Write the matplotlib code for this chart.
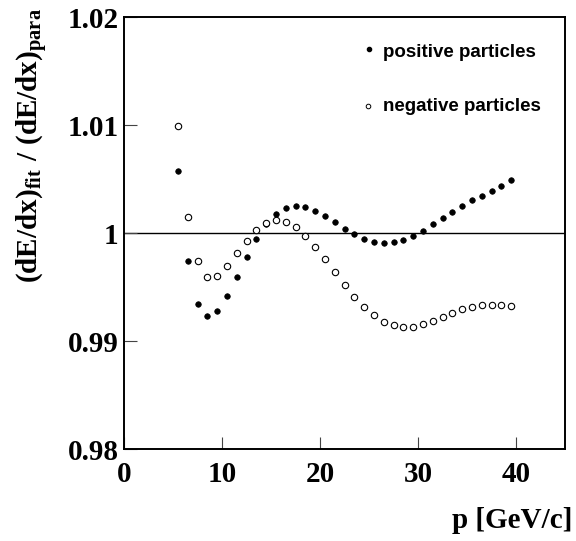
import matplotlib
matplotlib.use("Agg")
import matplotlib.pyplot as plt
import numpy as np

plt.rcParams['mathtext.fontset'] = 'custom'
plt.rcParams['mathtext.rm'] = 'Liberation Serif:bold'
plt.rcParams['mathtext.bf'] = 'Liberation Serif:bold'
plt.rcParams['mathtext.it'] = 'Liberation Serif:bold'

p_pos = [5.5, 6.5, 7.5, 8.5, 9.5, 10.5, 11.5, 12.5, 13.5, 14.5, 15.5, 16.5, 17.5,
         18.5, 19.5, 20.5, 21.5, 22.5, 23.5, 24.5, 25.5, 26.5, 27.5, 28.5, 29.5,
         30.5, 31.5, 32.5, 33.5, 34.5, 35.5, 36.5, 37.5, 38.5, 39.5]
ratio_pos = [1.00577, 0.99738, 0.99343, 0.99229, 0.99275, 0.99417, 0.99596, 0.99781,
             0.99942, 1.00080, 1.00173, 1.00229, 1.00253, 1.00241, 1.00206, 1.00157,
             1.00099, 1.00040, 0.99991, 0.99947, 0.99920, 0.99907, 0.99914, 0.99935,
             0.99972, 1.00020, 1.00080, 1.00136, 1.00198, 1.00253, 1.00302, 1.00346,
             1.00386, 1.00435, 1.00494]

p_neg = p_pos
ratio_neg = [1.00988, 1.00148, 0.99744, 0.99593, 0.99602, 0.99691, 0.99812, 0.99929,
             1.00028, 1.00096, 1.00117, 1.00105, 1.00056, 0.99975, 0.99873, 0.99762,
             0.99642, 0.99521, 0.99410, 0.99318, 0.99238, 0.99179, 0.99145, 0.99133,
             0.99133, 0.99156, 0.99185, 0.99225, 0.99259, 0.99293, 0.99318, 0.99333,
             0.99336, 0.99330, 0.99321]

x_ticks = [0, 10, 20, 30, 40]
y_ticks = [0.98, 0.99, 1.00, 1.01, 1.02]
y_tick_labels = ['0.98', '0.99', '1', '1.01', '1.02']
legend_labels = ['positive particles', 'negative particles']

W, H = 576, 541
fig = plt.figure(figsize=(W / 100, H / 100), dpi=100)
ax = fig.add_axes([124 / W, 1 - 449 / H, (565 - 124) / W, (449 - 17) / H])

ax.axhline(1.0, color='black', lw=1.0, zorder=1)
ax.plot(p_pos, ratio_pos, 'o', ms=4.0, mfc='black', mec='black', mew=0.5, zorder=3)
ax.plot(p_neg, ratio_neg, 'o', ms=4.6, mfc='white', mec='black', mew=0.8, zorder=3)

ax.set_xlim(0, 45)
ax.set_ylim(0.98, 1.02)
ax.set_xticks(x_ticks)
ax.set_xticklabels([str(t) for t in x_ticks])
ax.set_yticks(y_ticks)
ax.set_yticklabels(y_tick_labels)
ax.tick_params(axis='both', direction='in', length=9, width=0.8, color='#444444',
               labelsize=21)
ax.tick_params(axis='x', pad=9)
ax.tick_params(axis='y', pad=4)
for lab in ax.get_xticklabels() + ax.get_yticklabels():
    lab.set_fontfamily('Liberation Serif')
    lab.set_fontweight('bold')
for s in ax.spines.values():
    s.set_linewidth(1.4)

# legend
ax.plot([0.556], [0.925], 'o', ms=3.0, mfc='black', mec='black', transform=ax.transAxes,
        clip_on=False)
ax.plot([0.553], [0.794], 'o', ms=3.3, mfc='white', mec='black', mew=0.7,
        transform=ax.transAxes, clip_on=False)
ax.text(0.587, 0.917, legend_labels[0], transform=ax.transAxes, ha='left', va='center',
        fontsize=13.5, fontweight='bold', family='Liberation Sans')
ax.text(0.587, 0.793, legend_labels[1], transform=ax.transAxes, ha='left', va='center',
        fontsize=13.5, fontweight='bold', family='Liberation Sans')

fig.text(572 / W, 1 - 521 / H, 'p [GeV/c]', ha='right', va='center', fontsize=21,
         family='Liberation Serif', fontweight='bold')
fig.text(33 / W, 1 - 8 / H, r'$\mathrm{(dE/dx)_{fit}\ /\ (dE/dx)_{para}}$', rotation=90,
         ha='center', va='top', fontsize=21)

fig.savefig('out.png', dpi=100, facecolor='white')
